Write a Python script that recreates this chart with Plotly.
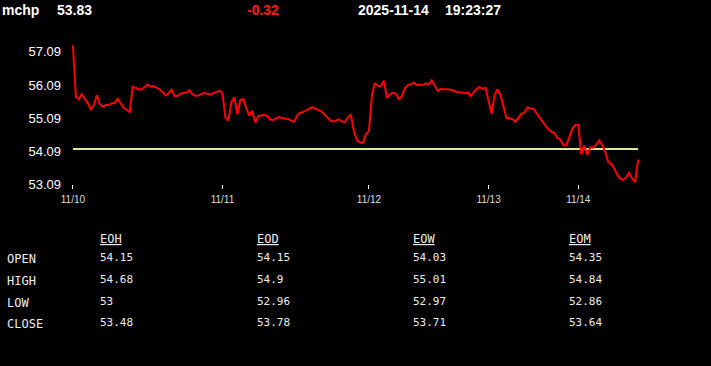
import plotly.graph_objects as go

# ---------------- data ----------------
symbol = "mchp"
last_price = "53.83"
change = "-0.32"
stamp_date = "2025-11-14"
stamp_time = "19:23:27"
prev_close = 54.15

prices = [
    57.29, 55.73, 55.66, 55.82, 55.66, 55.54, 55.35, 55.48, 55.78, 55.51,
    55.43, 55.48, 55.48, 55.53, 55.55, 55.67, 55.53, 55.40, 55.33, 55.27,
    56.04, 55.99, 55.96, 55.95, 56.02, 56.10, 56.04, 56.05, 56.01, 55.96,
    55.87, 55.77, 55.84, 55.95, 55.75, 55.76, 55.82, 55.85, 55.85, 55.93,
    55.80, 55.76, 55.77, 55.82, 55.85, 55.82, 55.80, 55.84, 55.88, 55.91,
    55.84, 55.11, 55.01, 55.57, 55.72, 55.20, 55.63, 55.66, 55.38, 55.16,
    55.31, 54.95, 55.15, 55.16, 55.18, 55.15, 55.04, 55.03, 55.08, 55.12,
    55.08, 55.08, 55.06, 55.00, 54.98, 55.16, 55.25, 55.27, 55.31, 55.37,
    55.42, 55.37, 55.33, 55.29, 55.21, 55.11, 55.02, 54.98, 55.01, 55.05,
    54.98, 54.97, 55.11, 55.18, 54.67, 54.41, 54.35, 54.33, 54.60, 54.69,
    55.78, 56.15, 56.06, 56.05, 56.22, 55.69, 55.80, 55.85, 55.82, 55.66,
    55.75, 55.98, 56.09, 56.11, 56.16, 56.08, 56.10, 56.08, 56.14, 56.10,
    56.23, 56.08, 55.91, 55.97, 55.97, 55.97, 55.95, 55.92, 55.89, 55.86,
    55.87, 55.83, 55.86, 55.75, 55.87, 55.97, 56.03, 55.97, 56.00, 55.58,
    55.22, 55.78, 55.96, 55.78, 55.44, 55.09, 55.09, 55.05, 54.98, 55.09,
    55.22, 55.25, 55.41, 55.38, 55.37, 55.24, 55.10, 54.97, 54.86, 54.75,
    54.67, 54.64, 54.48, 54.44, 54.27, 54.26, 54.51, 54.76, 54.88, 54.89,
    53.99, 54.26, 53.97, 54.20, 54.19, 54.28, 54.41, 54.28, 54.06, 53.76,
    53.70, 53.57, 53.37, 53.26, 53.21, 53.29, 53.43, 53.26, 53.15, 53.83,
]

day_tick_index = [0, 50, 99, 139, 169]
day_tick_labels = ["11/10", "11/11", "11/12", "11/13", "11/14"]

y_tick_values = [53.09, 54.09, 55.09, 56.09, 57.09]
y_tick_labels = ["53.09", "54.09", "55.09", "56.09", "57.09"]

table_columns = ["EOH", "EOD", "EOW", "EOM"]
table_rows = ["OPEN", "HIGH", "LOW", "CLOSE"]
table_values = {
    "EOH": ["54.15", "54.68", "53", "53.48"],
    "EOD": ["54.15", "54.9", "52.96", "53.78"],
    "EOW": ["54.03", "55.01", "52.97", "53.71"],
    "EOM": ["54.35", "54.84", "52.86", "53.64"],
}

# ---------------- layout geometry (pixels) ----------------
W, H = 711, 366
L, R, T, B = 72, 639, 43, 184


def px(xp):
    return (xp - L) / (R - L)


def py(yp):
    return (B - yp) / (B - T)


idx = list(range(len(prices)))

fig = go.Figure()
fig.add_trace(go.Scatter(
    x=[idx[0], idx[-1]], y=[prev_close, prev_close], mode="lines",
    line=dict(color="#d9ea8e", width=2), hoverinfo="skip", showlegend=False,
))
fig.add_trace(go.Scatter(
    x=idx, y=prices, mode="lines",
    line=dict(color="#ff0000", width=2), showlegend=False,
))

annotations = []
hdr_font = dict(family="Liberation Sans, Arial", size=14, color="#ffffff")


def add_text(text, xp, yp, font, anchor="left"):
    annotations.append(dict(
        text=text, x=px(xp), y=py(yp), xref="paper", yref="paper",
        xanchor=anchor, yanchor="middle", showarrow=False, font=font,
        borderpad=0,
    ))


add_text("<b>%s</b>" % symbol, 1, 10, hdr_font)
add_text("<b>%s</b>" % last_price, 56, 10, hdr_font)
add_text("<b>%s</b>" % change, 246, 10, dict(hdr_font, color="#ff1a1a"))
add_text("<b>%s</b>" % stamp_date, 357, 10, hdr_font)
add_text("<b>%s</b>" % stamp_time, 444, 10, hdr_font)

mono = "DejaVu Sans Mono, monospace"
lab_font = dict(family=mono, size=12, color="#eeeeee")
val_font = dict(family=mono, size=11, color="#eeeeee")
col_x = [99, 256, 412, 568]
row_y = [259, 281, 302.5, 324]
for cx, col in zip(col_x, table_columns):
    add_text("<u>%s</u>" % col, cx, 239, lab_font)
    for ry, v in zip(row_y, table_values[col]):
        add_text(v, cx, ry - 1.5, val_font)
for ry, rname in zip(row_y, table_rows):
    add_text(rname, 6, ry, lab_font)

fig.update_layout(
    width=W, height=H,
    margin=dict(l=L, r=W - R, t=T, b=H - B, pad=0),
    paper_bgcolor="#000000", plot_bgcolor="#000000",
    annotations=annotations,
    xaxis=dict(
        range=[-0.3, len(prices) - 0.7], showgrid=False, zeroline=False,
        showline=False, tickmode="array", tickvals=day_tick_index,
        ticktext=day_tick_labels, ticks="outside", ticklen=4, tickwidth=1,
        tickcolor="#ffffff", ticklabelstandoff=2,
        tickfont=dict(family="Liberation Sans, Arial", size=10, color="#dddddd"),
        fixedrange=True,
    ),
    yaxis=dict(
        range=[53.09, 57.36], showgrid=False, zeroline=False, showline=False,
        tickmode="array", tickvals=y_tick_values, ticktext=y_tick_labels,
        ticks="", ticklabelstandoff=10,
        tickfont=dict(family="Liberation Sans, Arial", size=13, color="#ffffff"),
        fixedrange=True,
    ),
)

fig.write_html("out.html")
